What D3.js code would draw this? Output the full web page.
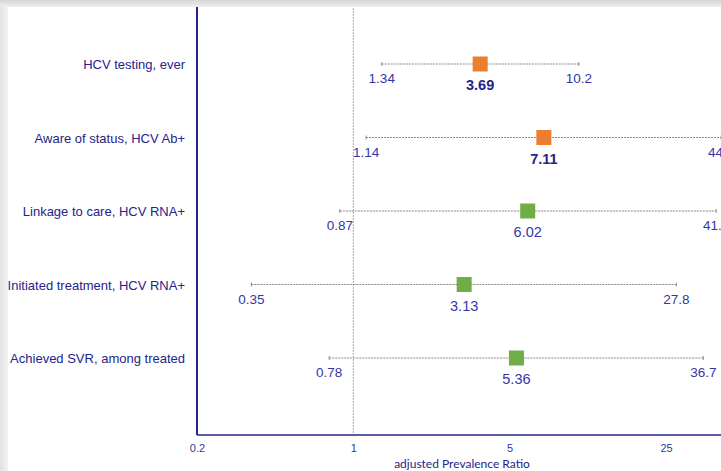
<!DOCTYPE html>
<html>
<head>
<meta charset="utf-8">
<script src="https://cdn.jsdelivr.net/npm/d3@7"></script>
<style>
  html, body { margin: 0; padding: 0; background: #ffffff; }
  svg { display: block; }
</style>
</head>
<body>
<svg id="chart" width="721" height="471"></svg>
<script>
// Outcomes along the HCV care cascade, with adjusted prevalence ratios and 95% CIs
const categories = [
  "HCV testing, ever",
  "Aware of status, HCV Ab+",
  "Linkage to care, HCV RNA+",
  "Initiated treatment, HCV RNA+",
  "Achieved SVR, among treated"
];
const estimates = [3.69, 7.11, 6.02, 3.13, 5.36];
const lowerCI   = [1.34, 1.14, 0.87, 0.35, 0.78];
const upperCI   = [10.2, 44.1, 41.9, 27.8, 36.7];
const groups    = ["A", "A", "B", "B", "B"];
const tickValues = [0.2, 1, 5, 25];
const xTitle = "adjusted Prevalence Ratio";

const rows = categories.map((c, i) => ({
  cat: c, est: estimates[i], lo: lowerCI[i], hi: upperCI[i], grp: groups[i]
}));

const W = 721, H = 471;
const svg = d3.select("#chart");

const navy = "#24248a";
const labelBlue = "#3636a6";
const groupColor = d3.scaleOrdinal().domain(["A", "B"]).range(["#ed7d31", "#70ad47"]);

// frame shading along the top and left edges
const defs = svg.append("defs");
const gTop = defs.append("linearGradient").attr("id", "shadeTop")
  .attr("x1", 0).attr("y1", 0).attr("x2", 0).attr("y2", 1);
gTop.append("stop").attr("offset", "0%").attr("stop-color", "#d6d6d6");
gTop.append("stop").attr("offset", "100%").attr("stop-color", "#efefef");
const gLeft = defs.append("linearGradient").attr("id", "shadeLeft")
  .attr("x1", 0).attr("y1", 0).attr("x2", 1).attr("y2", 0);
gLeft.append("stop").attr("offset", "0%").attr("stop-color", "#e2e2e2");
gLeft.append("stop").attr("offset", "100%").attr("stop-color", "#f3f3f3");

svg.append("rect").attr("x", 0).attr("y", 0).attr("width", W).attr("height", H).attr("fill", "#ffffff");
svg.append("rect").attr("x", 0).attr("y", 0).attr("width", 8).attr("height", H).attr("fill", "url(#shadeLeft)");
svg.append("rect").attr("x", 0).attr("y", 0).attr("width", W).attr("height", 7).attr("fill", "url(#shadeTop)");

const plotTop = 7, plotBottom = 435;

const x = d3.scaleLog().domain([0.2, 25]).range([197, 666]);
const y = d3.scalePoint().domain(categories).range([64, 358]);

// reference line at a ratio of 1
svg.append("line")
  .attr("x1", x(1)).attr("x2", x(1))
  .attr("y1", plotTop + 1).attr("y2", plotBottom)
  .attr("stroke", "#a8a8a8").attr("stroke-width", 1)
  .attr("stroke-dasharray", "2,1");

// x axis (log scale)
const xAxis = d3.axisBottom(x).tickValues(tickValues).tickSize(0).tickPadding(9)
  .tickFormat(d3.format("~g"));
const gx = svg.append("g").attr("transform", `translate(0,${plotBottom})`).call(xAxis);
gx.select(".domain").remove();
gx.selectAll("text")
  .attr("fill", labelBlue).attr("font-family", "Liberation Sans, Arial, sans-serif")
  .attr("font-size", 11);
svg.append("line")
  .attr("x1", x(0.2)).attr("x2", W)
  .attr("y1", plotBottom).attr("y2", plotBottom)
  .attr("stroke", navy).attr("stroke-width", 1.5);

svg.append("text")
  .attr("x", (x(0.2) + W) / 2 + 3).attr("y", 468)
  .attr("text-anchor", "middle")
  .attr("fill", navy).attr("font-family", "Lato, sans-serif").attr("font-size", 12)
  .text(xTitle);

// y axis line
svg.append("line")
  .attr("x1", x(0.2)).attr("x2", x(0.2))
  .attr("y1", plotTop).attr("y2", plotBottom)
  .attr("stroke", navy).attr("stroke-width", 2);

// category labels
svg.append("g").selectAll("text").data(rows).join("text")
  .attr("x", 185).attr("y", d => y(d.cat) + 5)
  .attr("text-anchor", "end")
  .attr("fill", navy).attr("font-family", "Liberation Sans, Arial, sans-serif")
  .attr("font-size", 13)
  .text(d => d.cat);

// confidence intervals
const ci = svg.append("g").selectAll("g").data(rows).join("g");
ci.append("line")
  .attr("x1", d => x(d.lo)).attr("x2", d => x(d.hi))
  .attr("y1", d => y(d.cat)).attr("y2", d => y(d.cat))
  .attr("stroke", "#8a8a8a").attr("stroke-width", 1)
  .attr("stroke-dasharray", "2,1");
ci.append("line")
  .attr("x1", d => x(d.lo)).attr("x2", d => x(d.lo))
  .attr("y1", d => y(d.cat) - 2).attr("y2", d => y(d.cat) + 2)
  .attr("stroke", "#8a8a8a").attr("stroke-width", 1);
ci.append("line")
  .attr("x1", d => x(d.hi)).attr("x2", d => x(d.hi))
  .attr("y1", d => y(d.cat) - 2).attr("y2", d => y(d.cat) + 2)
  .attr("stroke", "#8a8a8a").attr("stroke-width", 1);

// CI bound labels
ci.append("text")
  .attr("x", d => x(d.lo)).attr("y", d => y(d.cat) + 19)
  .attr("text-anchor", "middle")
  .attr("fill", labelBlue).attr("font-family", "Liberation Sans, Arial, sans-serif")
  .attr("font-size", 13.5)
  .text(d => d.lo);
ci.append("text")
  .attr("x", d => x(d.hi)).attr("y", d => y(d.cat) + 19)
  .attr("text-anchor", "middle")
  .attr("fill", labelBlue).attr("font-family", "Liberation Sans, Arial, sans-serif")
  .attr("font-size", 13.5)
  .text(d => d.hi);

// point estimates
const S = 15;
ci.append("rect")
  .attr("x", d => x(d.est) - S / 2).attr("y", d => y(d.cat) - S / 2)
  .attr("width", S).attr("height", S)
  .attr("fill", d => groupColor(d.grp));
ci.append("text")
  .attr("x", d => x(d.est)).attr("y", d => y(d.cat) + 26)
  .attr("text-anchor", "middle")
  .attr("fill", d => d.grp === "A" ? navy : labelBlue)
  .attr("font-family", "Liberation Sans, Arial, sans-serif")
  .attr("font-size", 14.5)
  .attr("font-weight", d => d.grp === "A" ? "bold" : "normal")
  .text(d => d3.format(".2f")(d.est));
</script>
</body>
</html>
